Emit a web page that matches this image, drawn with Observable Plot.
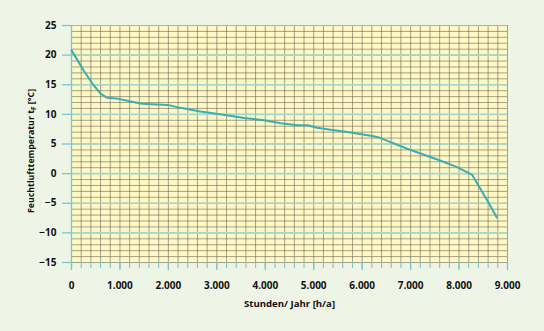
<!DOCTYPE html>
<html>
<head>
<meta charset="utf-8">
<script src="https://cdn.jsdelivr.net/npm/d3@7"></script>
<script src="https://cdn.jsdelivr.net/npm/@observablehq/plot@0.6"></script>
<style>
  html, body { margin: 0; padding: 0; background: #eef5e7; }
  #chart svg { display: block; }
</style>
</head>
<body>
<div id="chart"></div>
<script>
// Data (annual duration curve of wet-bulb temperature)
const hours = [0, 120, 250, 430, 600, 740, 920, 1200, 1450, 1980, 2250, 2660, 3140, 3560, 3970, 4320, 4660, 4870, 5070, 5350, 5730, 6240, 6380, 6930, 7580, 7960, 8270, 8400, 8580, 8780];
const temps = [20.8, 19.2, 17.4, 15.2, 13.5, 12.8, 12.7, 12.2, 11.8, 11.6, 11.1, 10.5, 9.95, 9.4, 9.0, 8.5, 8.15, 8.15, 7.75, 7.4, 7.0, 6.3, 6.0, 4.2, 2.3, 1.1, -0.2, -2.0, -4.5, -7.4];

const xMajorTicks = [0, 1000, 2000, 3000, 4000, 5000, 6000, 7000, 8000, 9000];
const xMinorTicks = d3.range(0, 9001, 200);
const yMajorTicks = [-15, -10, -5, 0, 5, 10, 15, 20, 25];
const yMinorTicks = d3.range(-15, 26, 1);

const xLabel = "Stunden/ Jahr [h/a]";
const yLabelMain = "Feuchtlufttemperatur t";
const yLabelSub = "F";
const yLabelEnd = " [°C]";

const fmt = d3.formatLocale({decimal: ",", thousands: ".", grouping: [3], currency: ["", "€"]}).format(",");
const data = hours.map((h, i) => ({h, t: temps[i]}));

const teal = "#7cc6cb";
const tealLight = "#a3dad0";
const grid = "#5c5347";

const chart = Plot.plot({
  width: 544,
  height: 331,
  marginLeft: 71,
  marginRight: 37,
  marginTop: 25,
  marginBottom: 69,
  style: {background: "#eef5e7", fontFamily: "'Open Sans', sans-serif", fontSize: "10px", fontWeight: "bold", color: "#111"},
  x: {domain: [0, 9000]},
  y: {domain: [-15, 25]},
  marks: [
    Plot.frame({fill: "#fdf8c6", stroke: null}),
    Plot.ruleX(xMinorTicks, {stroke: grid, strokeWidth: 0.7, strokeOpacity: 0.75}),
    Plot.ruleY(yMinorTicks, {stroke: grid, strokeWidth: 0.7, strokeOpacity: 0.75}),
    Plot.ruleY(yMajorTicks.filter(v => v > -15 && v < 25), {stroke: tealLight, strokeWidth: 1.6}),
    Plot.ruleY([25], {stroke: teal, strokeWidth: 1.2}),
    Plot.ruleX([0], {stroke: teal, strokeWidth: 1.3}),
    Plot.axisY(yMajorTicks, {tickSize: 9, tickPadding: 6, stroke: teal, strokeWidth: 1.3, label: null, fill: "#111"}),
    Plot.axisX(xMinorTicks, {tickSize: 6, tickFormat: () => "", stroke: teal, strokeWidth: 1.1, label: null}),
    Plot.axisX(xMajorTicks, {tickSize: 8, tickPadding: 11, tickFormat: fmt, stroke: teal, strokeWidth: 1.3, label: null, fill: "#111"}),
    Plot.line(data, {x: "h", y: "t", stroke: "#3aaeb2", strokeWidth: 2}),
    Plot.text([xLabel], {frameAnchor: "bottom", dy: 44, fontSize: 9.6, fontWeight: "bold", fill: "#111"})
  ]
});

// y-axis title with subscript
const svg = d3.select(chart);
const t = svg.append("text")
  .attr("transform", `translate(34,151) rotate(-90)`)
  .attr("text-anchor", "middle")
  .attr("font-size", "8.8px")
  .attr("font-weight", "bold")
  .attr("fill", "#111");
t.append("tspan").text(yLabelMain);
t.append("tspan").attr("font-size", "6.5px").attr("dy", "2").text(yLabelSub);
t.append("tspan").attr("dy", "-2").text(yLabelEnd);

document.getElementById("chart").appendChild(chart);
</script>
</body>
</html>
